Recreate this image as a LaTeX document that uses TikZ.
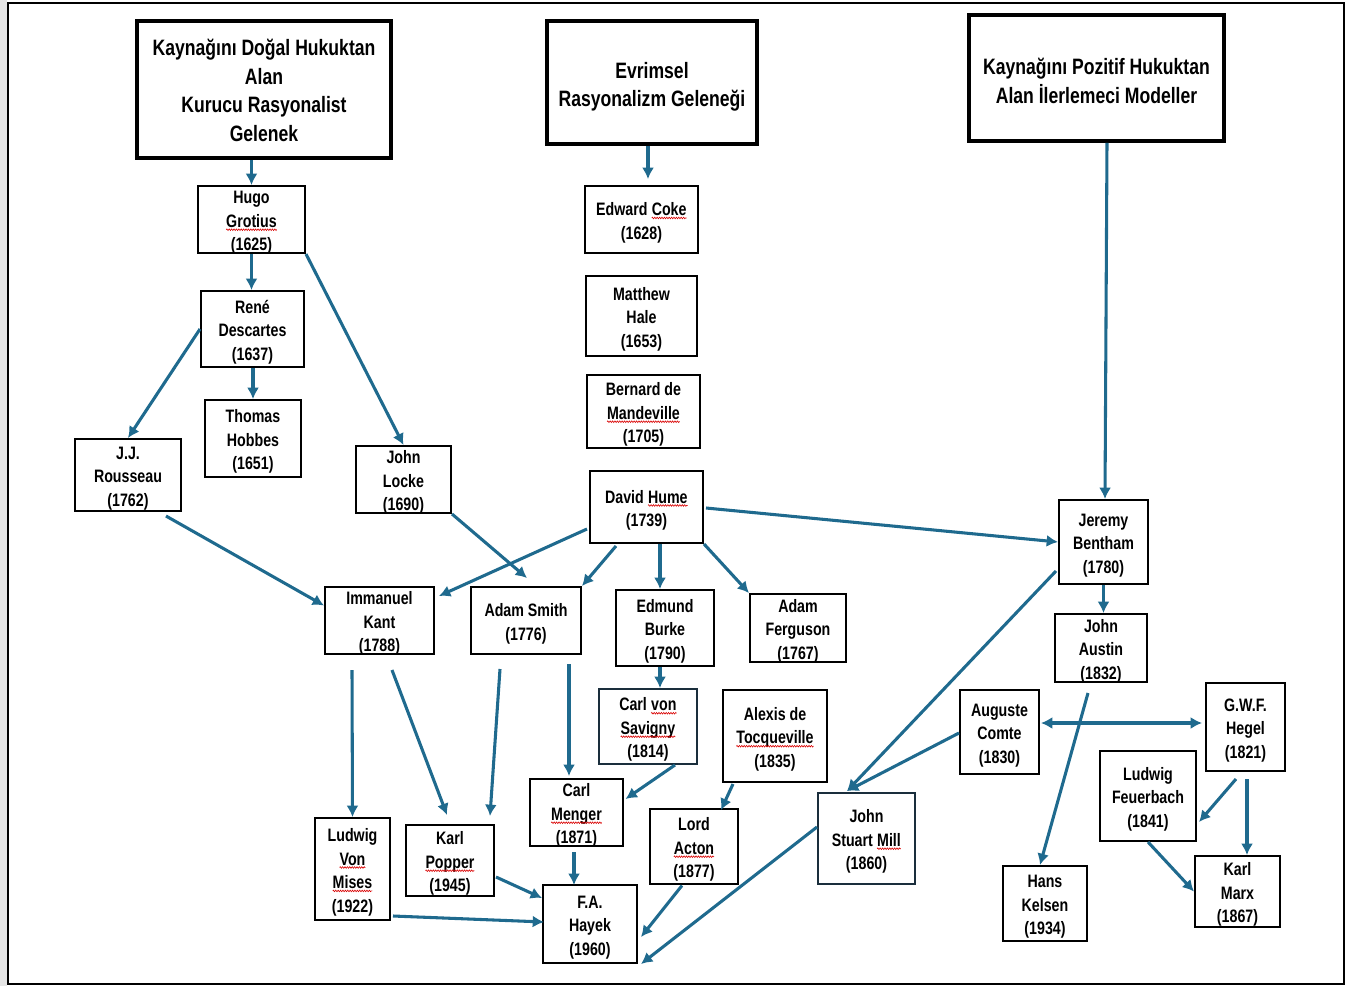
\documentclass[tikz,border=0pt]{standalone}
\usepackage{fontspec}
\setmainfont{Liberation Sans}[FakeStretch=0.79]
\usetikzlibrary{calc,arrows.meta,decorations.pathmorphing}
\definecolor{cblue}{HTML}{1F6A8E}
\definecolor{navy}{HTML}{1A2E3C}
\newcommand\pfont{\fontsize{13.5}{17.6}\selectfont\bfseries}
\newcommand\hfont{\fontsize{16.7}{21.4}\selectfont\bfseries}
\newcommand\up{\rule{0pt}{14.7pt}}
\newcommand\hup[1]{\rule{0pt}{#1}}
\newcommand\spl[1]{\tikz[baseline=(w.base)]{\node[draw=none,fill=none,inner sep=0pt,outer sep=0pt,minimum width=0pt,minimum height=0pt,anchor=base,text=black](w){#1};\draw[draw=red!85!black,line width=0.45pt,decorate,decoration={zigzag,amplitude=0.6pt,segment length=1.8pt}]([yshift=-1.7pt]w.base west)--([yshift=-1.7pt]w.base east);}}
\tikzset{
  pb/.style 2 args={draw=black, line width=1.5pt, minimum width=#1*0.75pt, minimum height=#2*0.75pt, inner xsep=0pt, inner ysep=-12pt, align=center, font=\pfont, text=black},
  hb/.style 2 args={draw=black, line width=2.8pt, minimum width=#1*0.75pt, minimum height=#2*0.75pt, inner sep=0pt, align=center, font=\hfont, text=black},
  con/.style={draw=cblue, line width=2.3pt, -{Latex[length=8.5pt,width=9pt]}},
  dcon/.style={draw=cblue, line width=2.3pt, {Latex[length=8.5pt,width=9pt]}-{Latex[length=8.5pt,width=9pt]}}
}
\begin{document}
\begin{tikzpicture}[x=0.75pt,y=-0.75pt]
\useasboundingbox (0,0) rectangle (1354,986);
\fill[black!10] (0,0) rectangle (7,986);
\draw[line width=1.6pt] (8,3) -- (1344,3) -- (1344,984) -- (8,984) -- cycle;

% headers
\node[hb={254}{137}] (h1) at (264,89.5) {\hup{14pt}Kaynağını Doğal Hukuktan\\Alan\\Kurucu Rasyonalist\\Gelenek};
\node[hb={210}{123}] (h2) at (652,82.5) {\hup{18.8pt}Evrimsel\\Rasyonalizm Geleneği};
\node[hb={255}{126}] (h3) at (1096.5,78) {\hup{16.3pt}Kaynağını Pozitif Hukuktan\\Alan İlerlemeci Modeller};

% persons
\node[pb={107}{67}] (grot) at (251.5,219.5) {\up Hugo\\\spl{Grotius}\\(1625)};
\node[pb={103}{76}] (desc) at (252.5,329) {\up René\\Descartes\\(1637)};
\node[pb={96}{77}] (hobb) at (253,438.5) {\up Thomas\\Hobbes\\(1651)};
\node[pb={106}{72}] (rous) at (128,475) {\up J.J.\\Rousseau\\(1762)};
\node[pb={95}{67}] (lock) at (403.5,479.5) {\up John\\Locke\\(1690)};
\node[pb={109}{67}] (kant) at (379.5,620.5) {\up Immanuel\\Kant\\(1788)};
\node[pb={113}{67}] (coke) at (641.5,219.5) {\up Edward \spl{Coke}\\(1628)};
\node[pb={111}{80}] (hale) at (641.5,316) {\up Matthew\\Hale\\(1653)};
\node[pb={113}{73}] (mand) at (643.5,411.5) {\up Bernard de\\\spl{Mandeville}\\(1705)};
\node[pb={113}{72}] (hume) at (646.5,507) {\up David \spl{Hume}\\(1739)};
\node[pb={110}{67}] (smit) at (526,620.5) {\up Adam Smith\\(1776)};
\node[pb={98}{76}] (burk) at (665,628) {\up Edmund\\Burke\\(1790)};
\node[pb={96}{68}] (ferg) at (798,628) {\up Adam\\Ferguson\\(1767)};
\node[pb={98}{75},draw=navy] (savi) at (648,726.5) {\up Carl \spl{von}\\\spl{Savigny}\\(1814)};
\node[pb={104}{92}] (tocq) at (775,736) {\up Alexis de\\\spl{Tocqueville}\\(1835)};
\node[pb={93}{67}] (meng) at (576.5,812.5) {\up Carl\\\spl{Menger}\\(1871)};
\node[pb={88}{75}] (acto) at (694,846.5) {\up Lord\\\spl{Acton}\\(1877)};
\node[pb={97}{91},draw=navy] (mill) at (866.5,838.5) {\up John\\Stuart \spl{Mill}\\(1860)};
\node[pb={75}{102}] (mise) at (352.5,869) {\up Ludwig\\\spl{Von}\\\spl{Mises}\\(1922)};
\node[pb={88}{71}] (popp) at (450,860.5) {\up Karl\\\spl{Popper}\\(1945)};
\node[pb={94}{78}] (haye) at (590,924) {\up F.A.\\Hayek\\(1960)};
\node[pb={89}{84}] (bent) at (1103.5,542) {\up Jeremy\\Bentham\\(1780)};
\node[pb={92}{68}] (aust) at (1101,648) {\up John\\Austin\\(1832)};
\node[pb={79}{84}] (comt) at (999.5,732) {\up Auguste\\Comte\\(1830)};
\node[pb={79}{88}] (hege) at (1245.5,727) {\up G.W.F.\\Hegel\\(1821)};
\node[pb={96}{90}] (feue) at (1148,796) {\up Ludwig\\Feuerbach\\(1841)};
\node[pb={84}{75}] (kels) at (1045,903.5) {\up Hans\\Kelsen\\(1934)};
\node[pb={85}{71}] (marx) at (1237.5,891.5) {\up Karl\\Marx\\(1867)};

% free ends
\coordinate (r1) at ($(rous.south east)+(-16,4)$);
\coordinate (k1) at ($(kant.south west)+(28,15)$);
\coordinate (k2) at ($(kant.south west)+(68,15)$);
\coordinate (s1) at ($(smit.south west)+(30,14)$);
\coordinate (s2) at ($(smit.south)+(43,9)$);
\coordinate (a1) at ($(aust.south)+(-13,10)$);

% connectors
\draw[con] (grot.north |- h1.south) -- (grot.north);
\draw[con] (grot.south) -- (grot.south |- desc.north);
\draw[con] (grot.south east) -- (lock.north);
\draw[con] (hobb.north |- desc.south) -- (hobb.north);
\draw[con] (desc.west) -- (rous.north);
\draw[con] (r1) -- ($(kant.west)+(0,-15)$);
\draw[con] (lock.south east) -- ($(smit.north)+(1,-8)$);
\draw[con] ($(hume.south west)+(-2,-15)$) -- ($(kant.north east)+(4,10)$);
\draw[con] ($(hume.south west)+(27,2)$) -- (smit.north east);
\draw[con] ($(hume.south)+(13.5,0)$) -- ($(burk.north)+(-5,0)$);
\draw[con] (hume.south east) -- (ferg.north west);
\draw[con] ($(hume.east)+(2,1)$) -- (bent.west);
\draw[con] ($(h2.south)+(-4,0)$) -- ($(coke.north)+(6.5,-6)$);
\draw[con] ($(h3.south)+(10.5,0)$) -- ($(bent.north)+(1.5,0)$);
\draw[con] (bent.south) -- (bent.south |- aust.north);
\draw[con] ($(bent.south west)+(-2,-14)$) -- ($(mill.north west)+(30,-1)$);
\draw[con] ($(comt.west)+(0,1)$) -- ($(mill.north west)+(30,-1)$);
\draw[con] (a1) -- ($(kels.north)+(-5,0)$);
\draw[dcon] ($(comt.east)+(1,-9)$) -- ($(hege.west)+(-3,-4)$);
\draw[con] ($(hege.south)+(-9.5,7)$) -- ($(feue.east)+(2,26)$);
\draw[con] ($(hege.south)+(1.5,7)$) -- ($(marx.north)+(9.5,0)$);
\draw[con] (feue.south) -- (marx.west);
\draw[con] ($(burk.south)+(-5,0)$) -- ($(savi.north)+(12,0)$);
\draw[con] ($(savi.south)+(27,0)$) -- ($(meng.east)+(1.5,-13.5)$);
\draw[con] ($(tocq.south west)+(11,1)$) -- ($(acto.north east)+(-18,2)$);
\draw[con] (s2) -- ($(meng.north)+(-7.5,-2)$);
\draw[con] (k1) -- (mise.north);
\draw[con] (k2) -- ($(popp.north)+(-3,-9)$);
\draw[con] (s1) -- ($(popp.north east)+(-5,-8)$);
\draw[con] ($(meng.south)+(-2.5,5)$) -- ($(haye.north)+(-16,1)$);
\draw[con] ($(popp.east)+(1,16.5)$) -- ($(haye.west)+(0,-26)$);
\draw[con] ($(mise.east)+(2,47)$) -- ($(haye.west)+(2,-2)$);
\draw[con] ($(acto.south)+(-12,0.5)$) -- ($(haye.east)+(3,13)$);
\draw[con] ($(mill.west)+(0,-11.5)$) -- ($(haye.south east)+(3,0)$);
\end{tikzpicture}
\end{document}
